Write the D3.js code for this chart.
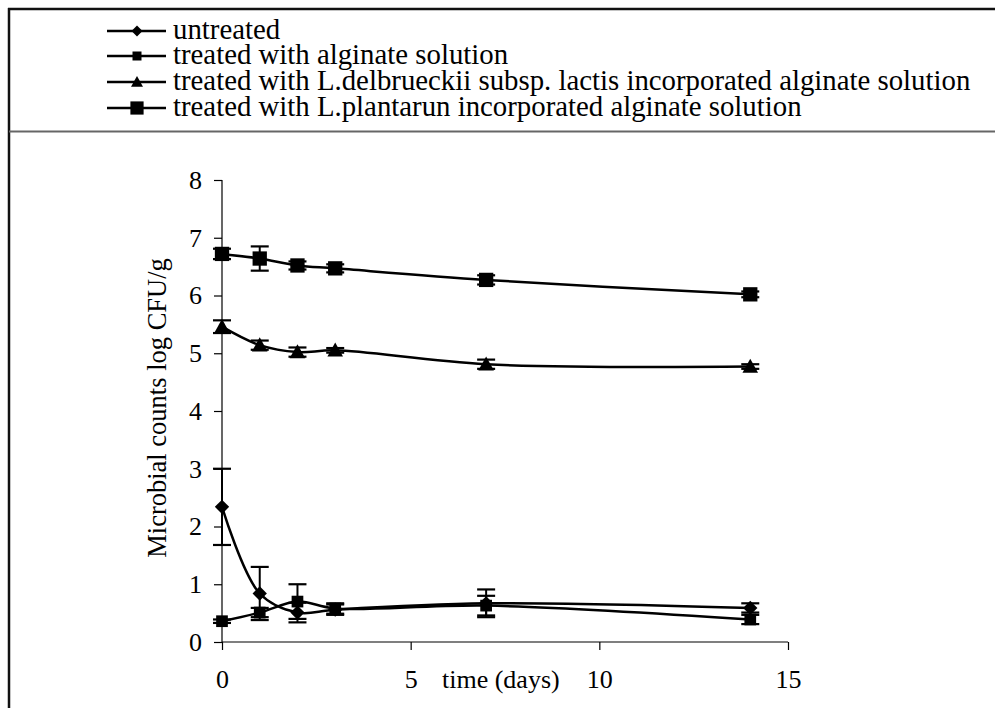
<!DOCTYPE html>
<html>
<head>
<meta charset="utf-8">
<script src="https://cdn.jsdelivr.net/npm/d3@7/dist/d3.min.js"></script>
<style>
  html, body { margin: 0; padding: 0; background: #fff; }
  svg { display: block; }
  text { font-family: "Liberation Serif", "Times New Roman", serif; fill: #000; }
</style>
</head>
<body>
<svg id="chart" width="995" height="708"></svg>
<script>
// ---- data ----
const days = [0, 1, 2, 3, 7, 14];
const untreated = [2.34, 0.84, 0.51, 0.56, 0.67, 0.59];
const untreatedErr = [0.66, 0.46, 0.17, 0.09, 0.24, 0.08];
const alginate = [0.36, 0.51, 0.70, 0.58, 0.63, 0.39];
const alginateErr = [0.03, 0.08, 0.30, 0.09, 0.17, 0.08];
const delbrueckii = [5.46, 5.14, 5.02, 5.05, 4.81, 4.77];
const delbrueckiiErr = [0.11, 0.08, 0.08, 0.04, 0.08, 0.04];
const plantarum = [6.72, 6.64, 6.52, 6.47, 6.27, 6.02];
const plantarumErr = [0.09, 0.21, 0.07, 0.07, 0.08, 0.05];
const seriesNames = [
  "untreated",
  "treated with alginate solution",
  "treated with L.delbrueckii subsp. lactis incorporated alginate solution",
  "treated with L.plantarun incorporated alginate solution"
];
const markerTypes = ["diamond", "smallsquare", "triangle", "square"];
const xTicks = [0, 5, 10, 15];
const yTicks = [0, 1, 2, 3, 4, 5, 6, 7, 8];
const xTitle = "time (days)";
const yTitle = "Microbial counts log CFU/g";

const series = [
  { name: seriesNames[0], vals: untreated, err: untreatedErr, marker: markerTypes[0] },
  { name: seriesNames[1], vals: alginate, err: alginateErr, marker: markerTypes[1] },
  { name: seriesNames[2], vals: delbrueckii, err: delbrueckiiErr, marker: markerTypes[2] },
  { name: seriesNames[3], vals: plantarum, err: plantarumErr, marker: markerTypes[3] }
];

const svg = d3.select("#chart");

// frame
svg.append("line").attr("x1", 8).attr("x2", 995).attr("y1", 9).attr("y2", 9)
  .attr("stroke", "#111").attr("stroke-width", 2.5);
svg.append("line").attr("x1", 9).attr("x2", 9).attr("y1", 8).attr("y2", 708)
  .attr("stroke", "#111").attr("stroke-width", 2.5);
svg.append("line").attr("x1", 9).attr("x2", 995).attr("y1", 131.5).attr("y2", 131.5)
  .attr("stroke", "#666").attr("stroke-width", 2);

// scales
const x = d3.scaleLinear().domain([0, 15]).range([222, 788]);
const y = d3.scaleLinear().domain([0, 8]).range([642, 180]);

// axes
const xAxis = svg.append("g").attr("transform", `translate(0,${y(0)})`)
  .call(d3.axisBottom(x).tickValues(xTicks).tickSize(8).tickPadding(20).tickFormat(d3.format("d")));
const yAxis = svg.append("g").attr("transform", `translate(${x(0)},0)`)
  .call(d3.axisLeft(y).tickValues(yTicks).tickSize(8).tickPadding(12).tickFormat(d3.format("d")));
[xAxis, yAxis].forEach(g => {
  g.select(".domain").attr("stroke", "#000").attr("stroke-width", 1.2);
  g.selectAll(".tick line").attr("stroke", "#000").attr("stroke-width", 1.2);
  g.selectAll(".tick text").attr("font-size", 26).attr("font-family", "Liberation Serif").attr("fill", "#000");
});
xAxis.select(".domain").attr("d", `M${x(0)},0H${x(15)}`);
yAxis.select(".domain").attr("d", `M0,${y(0)}V${y(8)}`);

// axis titles
svg.append("text").attr("x", 442).attr("y", 688).attr("text-anchor", "start")
  .attr("font-size", 26).text(xTitle);
svg.append("text").attr("transform", `translate(160,${408}) rotate(-90)`)
  .attr("text-anchor", "middle").attr("dominant-baseline", "middle")
  .attr("font-size", 26.5).text(yTitle);

// marker drawing
function drawMarker(g, type, cx, cy, s) {
  if (type === "diamond") {
    const r = s * 0.55;
    g.append("path").attr("d", `M${cx},${cy - r}L${cx + r},${cy}L${cx},${cy + r}L${cx - r},${cy}Z`).attr("fill", "#000");
  } else if (type === "smallsquare") {
    const h = s * 0.45;
    g.append("rect").attr("x", cx - h).attr("y", cy - h).attr("width", 2 * h).attr("height", 2 * h).attr("fill", "#000");
  } else if (type === "square") {
    const h = s * 0.55;
    g.append("rect").attr("x", cx - h).attr("y", cy - h).attr("width", 2 * h).attr("height", 2 * h).attr("fill", "#000");
  } else if (type === "triangle") {
    const h = s * 0.6;
    g.append("path").attr("d", `M${cx},${cy - h}L${cx + h},${cy + h * 0.8}L${cx - h},${cy + h * 0.8}Z`).attr("fill", "#000");
  }
}

const line = d3.line().x((d, i) => x(days[i])).y(d => y(d)).curve(d3.curveCatmullRom.alpha(0.5));
const plot = svg.append("g");

series.forEach(s => {
  plot.append("path").attr("d", line(s.vals)).attr("fill", "none")
    .attr("stroke", "#000").attr("stroke-width", 2.5);
});
series.forEach(s => {
  const g = plot.append("g");
  s.vals.forEach((v, i) => {
    const cx = x(days[i]);
    const hi = y(v + s.err[i]), lo = y(v - s.err[i]);
    g.append("line").attr("x1", cx).attr("x2", cx).attr("y1", hi).attr("y2", lo).attr("stroke", "#000").attr("stroke-width", 2);
    g.append("line").attr("x1", cx - 9).attr("x2", cx + 9).attr("y1", hi).attr("y2", hi).attr("stroke", "#000").attr("stroke-width", 2.2);
    g.append("line").attr("x1", cx - 9).attr("x2", cx + 9).attr("y1", lo).attr("y2", lo).attr("stroke", "#000").attr("stroke-width", 2.2);
  });
});
series.forEach(s => {
  const g = plot.append("g");
  s.vals.forEach((v, i) => drawMarker(g, s.marker, x(days[i]), y(v), 13));
});

// legend
const legY = [31, 56, 82, 108];
const leg = svg.append("g");
series.forEach((s, i) => {
  const ly = legY[i];
  leg.append("line").attr("x1", 107).attr("x2", 166).attr("y1", ly).attr("y2", ly)
    .attr("stroke", "#000").attr("stroke-width", 2.5);
  drawMarker(leg, s.marker, 137, ly, s.marker === "square" ? 12 : 10);
  leg.append("text").attr("x", 173).attr("y", ly + 8)
    .attr("font-size", 28.8).text(s.name);
});
</script>
</body>
</html>
